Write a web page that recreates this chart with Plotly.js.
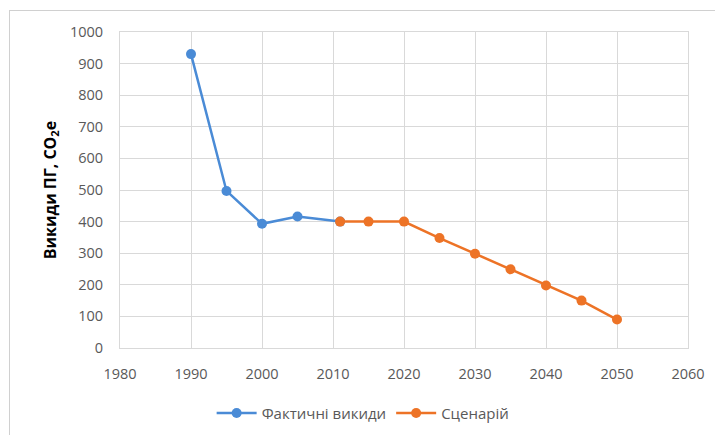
<!DOCTYPE html>
<html><head><meta charset="utf-8">
<script src="https://cdn.plot.ly/plotly-3.0.1.min.js"></script>
<style>
html,body{margin:0;padding:0;background:#fff;}
#frame{position:absolute;left:9px;top:10px;width:720px;height:440px;border-top:1px solid #d0d0d0;border-left:1px solid #d0d0d0;}
#chart{position:absolute;left:0;top:0;width:715px;height:435px;}
</style>
</head><body>
<div id="frame"></div>
<div id="chart"></div>
<script>
const actualYears = [1990, 1995, 2000, 2005, 2011];
const actualValues = [930, 497, 393, 416, 400];
const scenarioYears = [2011, 2015, 2020, 2025, 2030, 2035, 2040, 2045, 2050];
const scenarioValues = [400, 400, 400, 348, 298, 249, 198, 150, 90];
const actualName = 'Фактичні викиди';
const scenarioName = 'Сценарій';
const yTitle = 'Викиди ПГ, CO<sub>2</sub>e';

const traces = [
  {x: actualYears, y: actualValues, name: actualName, type: 'scatter', mode: 'lines+markers',
   line: {color: '#4a8bd6', width: 2.5}, marker: {color: '#4a8bd6', size: 10}},
  {x: scenarioYears, y: scenarioValues, name: scenarioName, type: 'scatter', mode: 'lines+markers',
   line: {color: '#ed7326', width: 2.5}, marker: {color: '#ed7326', size: 10}}
];
const layout = {
  width: 715, height: 435,
  margin: {l: 120, r: 27, t: 32, b: 87},
  paper_bgcolor: 'rgba(0,0,0,0)', plot_bgcolor: '#fff',
  font: {family: 'Open Sans, Liberation Sans, sans-serif', size: 14.5, color: '#595959'},
  showlegend: true,
  legend: {orientation: 'h', xref: 'container', yref: 'container', x: 0.296, xanchor: 'left', y: 0.088, yanchor: 'top',
           itemwidth: 40, font: {size: 15, color: '#595959'}},
  xaxis: {range: [1980, 2060], dtick: 10, tick0: 1980, showgrid: true, gridcolor: '#d9d9d9', gridwidth: 1,
          zeroline: false, showline: true, linecolor: '#d9d9d9', ticks: 'outside', ticklen: 13, tickcolor: 'rgba(0,0,0,0)', mirror: true},
  yaxis: {range: [0, 1000], dtick: 100, showgrid: true, gridcolor: '#d9d9d9', gridwidth: 1,
          zeroline: false, showline: true, linecolor: '#d9d9d9', ticks: 'outside', ticklen: 13, tickcolor: 'rgba(0,0,0,0)', mirror: true,
          title: {text: yTitle, font: {size: 16, color: '#000', family: 'Open Sans, sans-serif', weight: 'bold'}, standoff: 9}}
};
Plotly.newPlot('chart', traces, layout, {displayModeBar: false, staticPlot: true});
</script>
</body></html>
